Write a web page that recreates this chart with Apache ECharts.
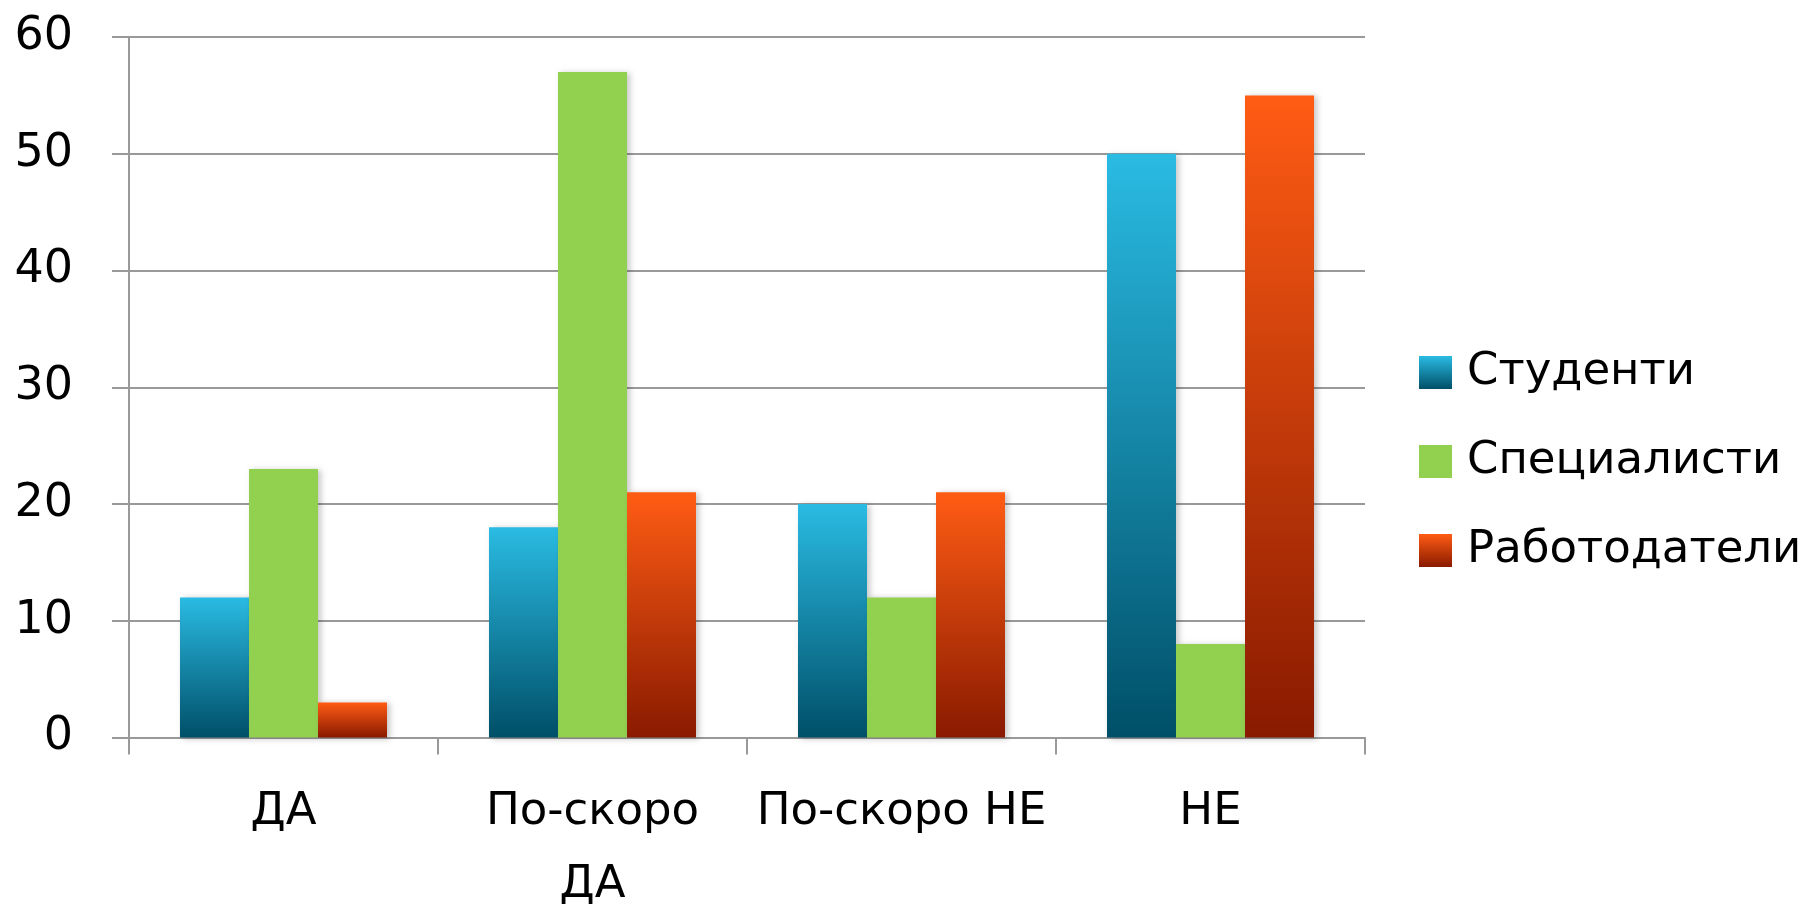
<!DOCTYPE html>
<html>
<head>
<meta charset="utf-8">
<script src="https://cdn.jsdelivr.net/npm/echarts@6/dist/echarts.min.js"></script>
<style>
html,body{margin:0;padding:0;background:#fff;}
#chart{width:1802px;height:906px;}
</style>
</head>
<body>
<div id="chart"></div>
<script>
const categories = ['ДА', 'По-скоро ДА', 'По-скоро НЕ', 'НЕ'];
const xTickLabels = ['ДА', 'По-скоро\nДА', 'По-скоро НЕ', 'НЕ'];
const seriesNames = ['Студенти', 'Специалисти', 'Работодатели'];
const students = [12, 18, 20, 50];
const specialists = [23, 57, 12, 8];
const employers = [3, 21, 21, 55];
const yTicks = [0, 10, 20, 30, 40, 50, 60];

const FONT = 'DejaVu Sans';
const grad = (top, bottom) => new echarts.graphic.LinearGradient(0, 0, 0, 1, [
  {offset: 0, color: top}, {offset: 1, color: bottom}
]);
const shadow = {shadowBlur: 6, shadowColor: 'rgba(0,0,0,0.22)', shadowOffsetX: 3, shadowOffsetY: 1};
const LINE = {color: '#999', width: 2};

const chart = echarts.init(document.getElementById('chart'));
chart.setOption({
  backgroundColor: '#ffffff',
  animation: false,
  grid: {left: 129, right: 437, top: 37, bottom: 168.5, containLabel: false, outerBoundsMode: 'none'},
  legend: {
    orient: 'vertical',
    left: 1414,
    top: 345,
    icon: 'rect',
    itemWidth: 33,
    itemHeight: 33,
    itemGap: 44,
    textStyle: {fontFamily: FONT, fontSize: 45, lineHeight: 45, color: '#000', padding: [0, 0, 0, 10]},
    data: seriesNames
  },
  xAxis: {
    type: 'category',
    data: categories,
    axisLine: {lineStyle: LINE},
    axisTick: {show: true, interval: 0, length: 17, alignWithLabel: false, lineStyle: LINE},
    axisLabel: {
      interval: 0,
      fontFamily: FONT, fontSize: 45, lineHeight: 73, color: '#000', margin: 38,
      formatter: (v, i) => xTickLabels[i]
    }
  },
  yAxis: {
    type: 'value',
    min: yTicks[0],
    max: yTicks[yTicks.length - 1],
    interval: 10,
    axisLine: {show: true, lineStyle: LINE},
    axisTick: {show: true, length: 17, lineStyle: LINE},
    splitLine: {lineStyle: LINE},
    axisLabel: {fontFamily: FONT, fontSize: 46, color: '#000', margin: 56, padding: [0, 0, 14, 0]}
  },
  series: [
    {name: seriesNames[0], type: 'bar', data: students, barGap: '0%', barCategoryGap: '33%',
     itemStyle: Object.assign({color: grad('#2abbe3', '#004f68')}, shadow)},
    {name: seriesNames[1], type: 'bar', data: specialists, barGap: '0%', barCategoryGap: '33%',
     itemStyle: Object.assign({color: '#92d050'}, shadow)},
    {name: seriesNames[2], type: 'bar', data: employers, barGap: '0%', barCategoryGap: '33%',
     itemStyle: Object.assign({color: grad('#ff5c14', '#891a00')}, shadow)}
  ]
});
</script>
</body>
</html>
